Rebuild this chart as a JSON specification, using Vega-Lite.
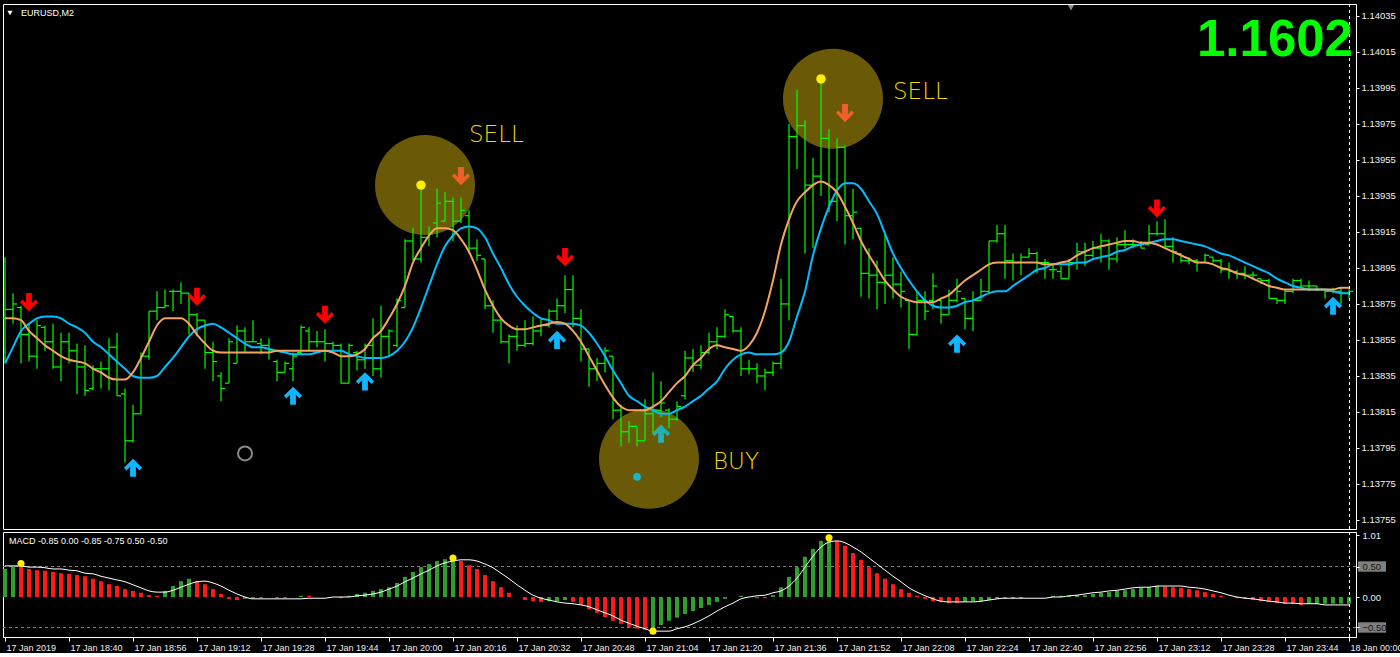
{
"$schema":"https://vega.github.io/schema/vega-lite/v6.json",
"background":"#000000",
"padding":{"left":2,"top":3,"right":0,"bottom":0},
"spacing":3,
"bounds":"flush",
"config":{"view":{"stroke":"#ffffff","strokeWidth":1},"axis":{"grid":false,"title":null,"labelFont":"Liberation Sans","labelFontSize":9,"labelColor":"#f0f0f0","domainColor":"#ffffff","tickColor":"#ffffff","labelOverlap":false},"text":{"font":"Liberation Sans"}},
"datasets":{
"bars":[
{"t":"2019-01-17 18:24","o":1.13867,"h":1.13901,"l":1.13842,"c":1.13872,"f":1.13867,"s":1.13842,"m":0.46,"g":0.51,"d":"up"},
{"t":"2019-01-17 18:26","o":1.13872,"h":1.13881,"l":1.13864,"c":1.13875,"f":1.13867,"s":1.13851,"m":0.50,"g":0.51,"d":"up"},
{"t":"2019-01-17 18:28","o":1.13873,"h":1.13874,"l":1.13842,"c":1.13858,"f":1.13866,"s":1.13860,"m":0.49,"g":0.51,"d":"dn"},
{"t":"2019-01-17 18:30","o":1.13858,"h":1.13864,"l":1.13843,"c":1.13846,"f":1.13860,"s":1.13864,"m":0.46,"g":0.49,"d":"dn"},
{"t":"2019-01-17 18:32","o":1.13846,"h":1.13866,"l":1.13839,"c":1.13863,"f":1.13856,"s":1.13867,"m":0.44,"g":0.49,"d":"dn"},
{"t":"2019-01-17 18:34","o":1.13862,"h":1.13863,"l":1.13849,"c":1.13854,"f":1.13852,"s":1.13868,"m":0.43,"g":0.48,"d":"dn"},
{"t":"2019-01-17 18:36","o":1.13854,"h":1.13864,"l":1.13839,"c":1.13840,"f":1.13849,"s":1.13868,"m":0.41,"g":0.46,"d":"dn"},
{"t":"2019-01-17 18:38","o":1.13840,"h":1.13859,"l":1.13832,"c":1.13854,"f":1.13846,"s":1.13867,"m":0.39,"g":0.46,"d":"dn"},
{"t":"2019-01-17 18:40","o":1.13854,"h":1.13859,"l":1.13842,"c":1.13849,"f":1.13844,"s":1.13864,"m":0.38,"g":0.44,"d":"dn"},
{"t":"2019-01-17 18:42","o":1.13849,"h":1.13853,"l":1.13825,"c":1.13840,"f":1.13843,"s":1.13862,"m":0.36,"g":0.43,"d":"dn"},
{"t":"2019-01-17 18:44","o":1.13840,"h":1.13852,"l":1.13824,"c":1.13827,"f":1.13842,"s":1.13859,"m":0.34,"g":0.39,"d":"dn"},
{"t":"2019-01-17 18:46","o":1.13828,"h":1.13841,"l":1.13827,"c":1.13839,"f":1.13839,"s":1.13854,"m":0.30,"g":0.38,"d":"dn"},
{"t":"2019-01-17 18:48","o":1.13839,"h":1.13843,"l":1.13828,"c":1.13839,"f":1.13837,"s":1.13851,"m":0.26,"g":0.34,"d":"dn"},
{"t":"2019-01-17 18:50","o":1.13839,"h":1.13856,"l":1.13827,"c":1.13851,"f":1.13834,"s":1.13847,"m":0.21,"g":0.31,"d":"dn"},
{"t":"2019-01-17 18:52","o":1.13851,"h":1.13859,"l":1.13824,"c":1.13824,"f":1.13833,"s":1.13843,"m":0.18,"g":0.28,"d":"dn"},
{"t":"2019-01-17 18:54","o":1.13825,"h":1.13828,"l":1.13787,"c":1.13799,"f":1.13833,"s":1.13839,"m":0.13,"g":0.25,"d":"dn"},
{"t":"2019-01-17 18:56","o":1.13799,"h":1.13819,"l":1.13798,"c":1.13814,"f":1.13837,"s":1.13835,"m":0.10,"g":0.20,"d":"dn"},
{"t":"2019-01-17 18:58","o":1.13814,"h":1.13848,"l":1.13814,"c":1.13846,"f":1.13845,"s":1.13834,"m":0.07,"g":0.15,"d":"dn"},
{"t":"2019-01-17 19:00","o":1.13846,"h":1.13871,"l":1.13844,"c":1.13871,"f":1.13854,"s":1.13834,"m":0.03,"g":0.10,"d":"dn"},
{"t":"2019-01-17 19:02","o":1.13871,"h":1.13882,"l":1.13866,"c":1.13873,"f":1.13863,"s":1.13835,"m":0.02,"g":0.08,"d":"dn"},
{"t":"2019-01-17 19:04","o":1.13873,"h":1.13883,"l":1.13873,"c":1.13874,"f":1.13867,"s":1.13840,"m":0.10,"g":0.08,"d":"up"},
{"t":"2019-01-17 19:06","o":1.13882,"h":1.13883,"l":1.13871,"c":1.13882,"f":1.13867,"s":1.13845,"m":0.18,"g":0.11,"d":"up"},
{"t":"2019-01-17 19:08","o":1.13882,"h":1.13887,"l":1.13875,"c":1.13881,"f":1.13867,"s":1.13851,"m":0.26,"g":0.16,"d":"up"},
{"t":"2019-01-17 19:10","o":1.13881,"h":1.13881,"l":1.13858,"c":1.13869,"f":1.13864,"s":1.13857,"m":0.30,"g":0.21,"d":"up"},
{"t":"2019-01-17 19:12","o":1.13869,"h":1.13870,"l":1.13857,"c":1.13866,"f":1.13858,"s":1.13861,"m":0.26,"g":0.25,"d":"dn"},
{"t":"2019-01-17 19:14","o":1.13866,"h":1.13866,"l":1.13839,"c":1.13848,"f":1.13853,"s":1.13863,"m":0.21,"g":0.26,"d":"dn"},
{"t":"2019-01-17 19:16","o":1.13848,"h":1.13854,"l":1.13832,"c":1.13843,"f":1.13849,"s":1.13864,"m":0.13,"g":0.23,"d":"dn"},
{"t":"2019-01-17 19:18","o":1.13835,"h":1.13837,"l":1.13821,"c":1.13828,"f":1.13848,"s":1.13862,"m":0.05,"g":0.18,"d":"dn"},
{"t":"2019-01-17 19:20","o":1.13831,"h":1.13856,"l":1.13831,"c":1.13854,"f":1.13848,"s":1.13859,"m":-0.03,"g":0.11,"d":"dn"},
{"t":"2019-01-17 19:22","o":1.13842,"h":1.13863,"l":1.13842,"c":1.13860,"f":1.13848,"s":1.13856,"m":-0.05,"g":0.05,"d":"dn"},
{"t":"2019-01-17 19:24","o":1.13860,"h":1.13862,"l":1.13848,"c":1.13854,"f":1.13848,"s":1.13853,"m":-0.03,"g":0.00,"d":"up"},
{"t":"2019-01-17 19:26","o":1.13854,"h":1.13866,"l":1.13854,"c":1.13854,"f":1.13848,"s":1.13851,"m":-0.02,"g":-0.03,"d":"up"},
{"t":"2019-01-17 19:28","o":1.13853,"h":1.13856,"l":1.13847,"c":1.13852,"f":1.13848,"s":1.13851,"m":-0.02,"g":-0.03,"d":"dn"},
{"t":"2019-01-17 19:30","o":1.13852,"h":1.13856,"l":1.13844,"c":1.13849,"f":1.13848,"s":1.13850,"m":0.00,"g":-0.03,"d":"up"},
{"t":"2019-01-17 19:32","o":1.13843,"h":1.13844,"l":1.13832,"c":1.13837,"f":1.13849,"s":1.13849,"m":-0.02,"g":-0.03,"d":"dn"},
{"t":"2019-01-17 19:34","o":1.13837,"h":1.13843,"l":1.13837,"c":1.13842,"f":1.13849,"s":1.13848,"m":-0.02,"g":-0.03,"d":"dn"},
{"t":"2019-01-17 19:36","o":1.13839,"h":1.13848,"l":1.13832,"c":1.13846,"f":1.13849,"s":1.13847,"m":0.00,"g":-0.03,"d":"up"},
{"t":"2019-01-17 19:38","o":1.13848,"h":1.13863,"l":1.13847,"c":1.13862,"f":1.13849,"s":1.13847,"m":0.02,"g":-0.03,"d":"up"},
{"t":"2019-01-17 19:40","o":1.13860,"h":1.13862,"l":1.13849,"c":1.13854,"f":1.13849,"s":1.13847,"m":0.02,"g":-0.02,"d":"dn"},
{"t":"2019-01-17 19:42","o":1.13854,"h":1.13860,"l":1.13851,"c":1.13854,"f":1.13849,"s":1.13848,"m":0.00,"g":-0.02,"d":"dn"},
{"t":"2019-01-17 19:44","o":1.13854,"h":1.13861,"l":1.13843,"c":1.13853,"f":1.13849,"s":1.13849,"m":0.00,"g":-0.02,"d":"dn"},
{"t":"2019-01-17 19:46","o":1.13853,"h":1.13854,"l":1.13849,"c":1.13852,"f":1.13848,"s":1.13849,"m":0.00,"g":0.00,"d":"dn"},
{"t":"2019-01-17 19:48","o":1.13852,"h":1.13853,"l":1.13831,"c":1.13831,"f":1.13846,"s":1.13849,"m":-0.02,"g":0.00,"d":"dn"},
{"t":"2019-01-17 19:50","o":1.13831,"h":1.13853,"l":1.13831,"c":1.13852,"f":1.13846,"s":1.13847,"m":0.02,"g":0.00,"d":"up"},
{"t":"2019-01-17 19:52","o":1.13848,"h":1.13849,"l":1.13838,"c":1.13844,"f":1.13847,"s":1.13846,"m":0.05,"g":0.02,"d":"up"},
{"t":"2019-01-17 19:54","o":1.13844,"h":1.13853,"l":1.13839,"c":1.13852,"f":1.13850,"s":1.13845,"m":0.07,"g":0.03,"d":"up"},
{"t":"2019-01-17 19:56","o":1.13852,"h":1.13867,"l":1.13835,"c":1.13839,"f":1.13856,"s":1.13845,"m":0.10,"g":0.05,"d":"up"},
{"t":"2019-01-17 19:58","o":1.13839,"h":1.13874,"l":1.13834,"c":1.13857,"f":1.13860,"s":1.13845,"m":0.13,"g":0.08,"d":"up"},
{"t":"2019-01-17 20:00","o":1.13857,"h":1.13861,"l":1.13846,"c":1.13860,"f":1.13867,"s":1.13846,"m":0.16,"g":0.13,"d":"up"},
{"t":"2019-01-17 20:02","o":1.13852,"h":1.13878,"l":1.13851,"c":1.13877,"f":1.13875,"s":1.13849,"m":0.23,"g":0.18,"d":"up"},
{"t":"2019-01-17 20:04","o":1.13873,"h":1.13911,"l":1.13873,"c":1.13910,"f":1.13885,"s":1.13854,"m":0.33,"g":0.25,"d":"up"},
{"t":"2019-01-17 20:06","o":1.13910,"h":1.13917,"l":1.13899,"c":1.13900,"f":1.13898,"s":1.13862,"m":0.41,"g":0.31,"d":"up"},
{"t":"2019-01-17 20:08","o":1.13900,"h":1.13941,"l":1.13898,"c":1.13912,"f":1.13906,"s":1.13873,"m":0.49,"g":0.38,"d":"up"},
{"t":"2019-01-17 20:10","o":1.13912,"h":1.13918,"l":1.13907,"c":1.13914,"f":1.13913,"s":1.13885,"m":0.54,"g":0.44,"d":"up"},
{"t":"2019-01-17 20:12","o":1.13920,"h":1.13939,"l":1.13912,"c":1.13931,"f":1.13917,"s":1.13897,"m":0.59,"g":0.51,"d":"up"},
{"t":"2019-01-17 20:14","o":1.13921,"h":1.13937,"l":1.13921,"c":1.13932,"f":1.13917,"s":1.13907,"m":0.62,"g":0.56,"d":"up"},
{"t":"2019-01-17 20:16","o":1.13932,"h":1.13934,"l":1.13910,"c":1.13921,"f":1.13916,"s":1.13913,"m":0.64,"g":0.59,"d":"up"},
{"t":"2019-01-17 20:18","o":1.13921,"h":1.13934,"l":1.13920,"c":1.13927,"f":1.13911,"s":1.13917,"m":0.59,"g":0.61,"d":"dn"},
{"t":"2019-01-17 20:20","o":1.13924,"h":1.13927,"l":1.13903,"c":1.13906,"f":1.13904,"s":1.13918,"m":0.52,"g":0.61,"d":"dn"},
{"t":"2019-01-17 20:22","o":1.13906,"h":1.13911,"l":1.13899,"c":1.13902,"f":1.13894,"s":1.13917,"m":0.46,"g":0.59,"d":"dn"},
{"t":"2019-01-17 20:24","o":1.13900,"h":1.13900,"l":1.13872,"c":1.13874,"f":1.13883,"s":1.13912,"m":0.36,"g":0.54,"d":"dn"},
{"t":"2019-01-17 20:26","o":1.13874,"h":1.13877,"l":1.13859,"c":1.13866,"f":1.13874,"s":1.13903,"m":0.26,"g":0.48,"d":"dn"},
{"t":"2019-01-17 20:28","o":1.13866,"h":1.13867,"l":1.13853,"c":1.13854,"f":1.13867,"s":1.13895,"m":0.16,"g":0.39,"d":"dn"},
{"t":"2019-01-17 20:30","o":1.13854,"h":1.13858,"l":1.13842,"c":1.13857,"f":1.13863,"s":1.13886,"m":0.07,"g":0.30,"d":"dn"},
{"t":"2019-01-17 20:32","o":1.13857,"h":1.13863,"l":1.13849,"c":1.13852,"f":1.13861,"s":1.13879,"m":0.00,"g":0.20,"d":"dn"},
{"t":"2019-01-17 20:34","o":1.13852,"h":1.13866,"l":1.13851,"c":1.13853,"f":1.13861,"s":1.13874,"m":-0.05,"g":0.11,"d":"dn"},
{"t":"2019-01-17 20:36","o":1.13853,"h":1.13868,"l":1.13852,"c":1.13860,"f":1.13862,"s":1.13870,"m":-0.07,"g":0.03,"d":"dn"},
{"t":"2019-01-17 20:38","o":1.13860,"h":1.13867,"l":1.13857,"c":1.13863,"f":1.13863,"s":1.13867,"m":-0.08,"g":-0.02,"d":"dn"},
{"t":"2019-01-17 20:40","o":1.13863,"h":1.13872,"l":1.13862,"c":1.13871,"f":1.13864,"s":1.13866,"m":-0.07,"g":-0.05,"d":"up"},
{"t":"2019-01-17 20:42","o":1.13871,"h":1.13878,"l":1.13866,"c":1.13874,"f":1.13865,"s":1.13864,"m":-0.07,"g":-0.08,"d":"up"},
{"t":"2019-01-17 20:44","o":1.13874,"h":1.13891,"l":1.13870,"c":1.13883,"f":1.13864,"s":1.13864,"m":-0.05,"g":-0.10,"d":"up"},
{"t":"2019-01-17 20:46","o":1.13883,"h":1.13891,"l":1.13862,"c":1.13867,"f":1.13860,"s":1.13864,"m":-0.08,"g":-0.11,"d":"dn"},
{"t":"2019-01-17 20:48","o":1.13867,"h":1.13872,"l":1.13843,"c":1.13850,"f":1.13854,"s":1.13863,"m":-0.13,"g":-0.13,"d":"dn"},
{"t":"2019-01-17 20:50","o":1.13850,"h":1.13850,"l":1.13829,"c":1.13839,"f":1.13846,"s":1.13859,"m":-0.20,"g":-0.16,"d":"dn"},
{"t":"2019-01-17 20:52","o":1.13839,"h":1.13845,"l":1.13832,"c":1.13842,"f":1.13838,"s":1.13853,"m":-0.26,"g":-0.21,"d":"dn"},
{"t":"2019-01-17 20:54","o":1.13842,"h":1.13851,"l":1.13837,"c":1.13849,"f":1.13830,"s":1.13846,"m":-0.33,"g":-0.26,"d":"dn"},
{"t":"2019-01-17 20:56","o":1.13846,"h":1.13846,"l":1.13811,"c":1.13816,"f":1.13823,"s":1.13838,"m":-0.39,"g":-0.31,"d":"dn"},
{"t":"2019-01-17 20:58","o":1.13816,"h":1.13819,"l":1.13796,"c":1.13804,"f":1.13818,"s":1.13831,"m":-0.44,"g":-0.38,"d":"dn"},
{"t":"2019-01-17 21:00","o":1.13804,"h":1.13810,"l":1.13798,"c":1.13807,"f":1.13816,"s":1.13824,"m":-0.49,"g":-0.43,"d":"dn"},
{"t":"2019-01-17 21:02","o":1.13807,"h":1.13807,"l":1.13796,"c":1.13799,"f":1.13816,"s":1.13821,"m":-0.52,"g":-0.48,"d":"dn"},
{"t":"2019-01-17 21:04","o":1.13799,"h":1.13822,"l":1.13799,"c":1.13814,"f":1.13816,"s":1.13818,"m":-0.54,"g":-0.52,"d":"dn"},
{"t":"2019-01-17 21:06","o":1.13814,"h":1.13837,"l":1.13803,"c":1.13816,"f":1.13818,"s":1.13816,"m":-0.51,"g":-0.56,"d":"up"},
{"t":"2019-01-17 21:08","o":1.13816,"h":1.13832,"l":1.13812,"c":1.13820,"f":1.13821,"s":1.13814,"m":-0.46,"g":-0.56,"d":"up"},
{"t":"2019-01-17 21:10","o":1.13816,"h":1.13817,"l":1.13806,"c":1.13811,"f":1.13826,"s":1.13814,"m":-0.39,"g":-0.56,"d":"up"},
{"t":"2019-01-17 21:12","o":1.13811,"h":1.13821,"l":1.13810,"c":1.13818,"f":1.13831,"s":1.13816,"m":-0.34,"g":-0.52,"d":"up"},
{"t":"2019-01-17 21:14","o":1.13824,"h":1.13849,"l":1.13822,"c":1.13845,"f":1.13835,"s":1.13818,"m":-0.28,"g":-0.49,"d":"up"},
{"t":"2019-01-17 21:16","o":1.13845,"h":1.13850,"l":1.13837,"c":1.13841,"f":1.13841,"s":1.13821,"m":-0.23,"g":-0.44,"d":"up"},
{"t":"2019-01-17 21:18","o":1.13841,"h":1.13852,"l":1.13839,"c":1.13848,"f":1.13845,"s":1.13824,"m":-0.18,"g":-0.38,"d":"up"},
{"t":"2019-01-17 21:20","o":1.13848,"h":1.13859,"l":1.13847,"c":1.13854,"f":1.13850,"s":1.13828,"m":-0.13,"g":-0.31,"d":"up"},
{"t":"2019-01-17 21:22","o":1.13854,"h":1.13862,"l":1.13850,"c":1.13857,"f":1.13852,"s":1.13832,"m":-0.08,"g":-0.23,"d":"up"},
{"t":"2019-01-17 21:24","o":1.13857,"h":1.13872,"l":1.13856,"c":1.13869,"f":1.13851,"s":1.13839,"m":-0.03,"g":-0.16,"d":"up"},
{"t":"2019-01-17 21:26","o":1.13868,"h":1.13868,"l":1.13859,"c":1.13860,"f":1.13850,"s":1.13844,"m":0.00,"g":-0.10,"d":"up"},
{"t":"2019-01-17 21:28","o":1.13860,"h":1.13862,"l":1.13835,"c":1.13839,"f":1.13849,"s":1.13847,"m":0.02,"g":-0.03,"d":"up"},
{"t":"2019-01-17 21:30","o":1.13839,"h":1.13844,"l":1.13836,"c":1.13839,"f":1.13852,"s":1.13848,"m":0.00,"g":0.00,"d":"dn"},
{"t":"2019-01-17 21:32","o":1.13839,"h":1.13842,"l":1.13831,"c":1.13835,"f":1.13859,"s":1.13847,"m":-0.02,"g":0.02,"d":"dn"},
{"t":"2019-01-17 21:34","o":1.13835,"h":1.13839,"l":1.13827,"c":1.13837,"f":1.13871,"s":1.13847,"m":-0.02,"g":0.03,"d":"dn"},
{"t":"2019-01-17 21:36","o":1.13837,"h":1.13843,"l":1.13835,"c":1.13842,"f":1.13888,"s":1.13847,"m":0.03,"g":0.07,"d":"up"},
{"t":"2019-01-17 21:38","o":1.13842,"h":1.13889,"l":1.13839,"c":1.13875,"f":1.13908,"s":1.13848,"m":0.16,"g":0.10,"d":"up"},
{"t":"2019-01-17 21:40","o":1.13875,"h":1.13975,"l":1.13866,"c":1.13968,"f":1.13922,"s":1.13854,"m":0.33,"g":0.18,"d":"up"},
{"t":"2019-01-17 21:42","o":1.13968,"h":1.13994,"l":1.13950,"c":1.13974,"f":1.13932,"s":1.13868,"m":0.49,"g":0.31,"d":"up"},
{"t":"2019-01-17 21:44","o":1.13974,"h":1.13977,"l":1.13903,"c":1.13941,"f":1.13937,"s":1.13882,"m":0.66,"g":0.49,"d":"up"},
{"t":"2019-01-17 21:46","o":1.13941,"h":1.13956,"l":1.13906,"c":1.13946,"f":1.13941,"s":1.13902,"m":0.79,"g":0.67,"d":"up"},
{"t":"2019-01-17 21:48","o":1.13946,"h":1.14000,"l":1.13935,"c":1.13967,"f":1.13943,"s":1.13917,"m":0.92,"g":0.82,"d":"up"},
{"t":"2019-01-17 21:50","o":1.13967,"h":1.13972,"l":1.13926,"c":1.13932,"f":1.13941,"s":1.13929,"m":0.97,"g":0.90,"d":"up"},
{"t":"2019-01-17 21:52","o":1.13932,"h":1.13967,"l":1.13921,"c":1.13962,"f":1.13937,"s":1.13938,"m":0.92,"g":0.92,"d":"dn"},
{"t":"2019-01-17 21:54","o":1.13962,"h":1.13963,"l":1.13908,"c":1.13924,"f":1.13929,"s":1.13942,"m":0.84,"g":0.89,"d":"dn"},
{"t":"2019-01-17 21:56","o":1.13924,"h":1.13939,"l":1.13911,"c":1.13926,"f":1.13920,"s":1.13942,"m":0.72,"g":0.82,"d":"dn"},
{"t":"2019-01-17 21:58","o":1.13917,"h":1.13917,"l":1.13879,"c":1.13892,"f":1.13910,"s":1.13939,"m":0.61,"g":0.74,"d":"dn"},
{"t":"2019-01-17 22:00","o":1.13892,"h":1.13906,"l":1.13878,"c":1.13891,"f":1.13902,"s":1.13932,"m":0.49,"g":0.64,"d":"dn"},
{"t":"2019-01-17 22:02","o":1.13891,"h":1.13899,"l":1.13872,"c":1.13887,"f":1.13895,"s":1.13925,"m":0.39,"g":0.54,"d":"dn"},
{"t":"2019-01-17 22:04","o":1.13887,"h":1.13914,"l":1.13875,"c":1.13891,"f":1.13888,"s":1.13914,"m":0.30,"g":0.44,"d":"dn"},
{"t":"2019-01-17 22:06","o":1.13891,"h":1.13901,"l":1.13878,"c":1.13886,"f":1.13883,"s":1.13903,"m":0.21,"g":0.34,"d":"dn"},
{"t":"2019-01-17 22:08","o":1.13886,"h":1.13893,"l":1.13873,"c":1.13882,"f":1.13879,"s":1.13895,"m":0.13,"g":0.25,"d":"dn"},
{"t":"2019-01-17 22:10","o":1.13877,"h":1.13877,"l":1.13850,"c":1.13858,"f":1.13877,"s":1.13888,"m":0.07,"g":0.15,"d":"dn"},
{"t":"2019-01-17 22:12","o":1.13858,"h":1.13882,"l":1.13858,"c":1.13877,"f":1.13876,"s":1.13882,"m":0.02,"g":0.08,"d":"dn"},
{"t":"2019-01-17 22:14","o":1.13877,"h":1.13882,"l":1.13866,"c":1.13871,"f":1.13876,"s":1.13877,"m":-0.03,"g":0.02,"d":"dn"},
{"t":"2019-01-17 22:16","o":1.13877,"h":1.13892,"l":1.13872,"c":1.13885,"f":1.13876,"s":1.13874,"m":-0.07,"g":-0.03,"d":"dn"},
{"t":"2019-01-17 22:18","o":1.13877,"h":1.13877,"l":1.13864,"c":1.13869,"f":1.13878,"s":1.13873,"m":-0.08,"g":-0.07,"d":"dn"},
{"t":"2019-01-17 22:20","o":1.13869,"h":1.13883,"l":1.13869,"c":1.13877,"f":1.13880,"s":1.13873,"m":-0.10,"g":-0.08,"d":"dn"},
{"t":"2019-01-17 22:22","o":1.13877,"h":1.13889,"l":1.13876,"c":1.13882,"f":1.13884,"s":1.13874,"m":-0.10,"g":-0.08,"d":"dn"},
{"t":"2019-01-17 22:24","o":1.13878,"h":1.13878,"l":1.13861,"c":1.13867,"f":1.13888,"s":1.13876,"m":-0.08,"g":-0.08,"d":"up"},
{"t":"2019-01-17 22:26","o":1.13867,"h":1.13882,"l":1.13860,"c":1.13877,"f":1.13891,"s":1.13877,"m":-0.07,"g":-0.08,"d":"up"},
{"t":"2019-01-17 22:28","o":1.13877,"h":1.13889,"l":1.13877,"c":1.13882,"f":1.13894,"s":1.13879,"m":-0.07,"g":-0.07,"d":"up"},
{"t":"2019-01-17 22:30","o":1.13882,"h":1.13910,"l":1.13881,"c":1.13910,"f":1.13897,"s":1.13881,"m":-0.05,"g":-0.05,"d":"up"},
{"t":"2019-01-17 22:32","o":1.13910,"h":1.13919,"l":1.13909,"c":1.13914,"f":1.13898,"s":1.13882,"m":-0.03,"g":-0.03,"d":"up"},
{"t":"2019-01-17 22:34","o":1.13914,"h":1.13919,"l":1.13889,"c":1.13899,"f":1.13898,"s":1.13882,"m":-0.02,"g":-0.02,"d":"up"},
{"t":"2019-01-17 22:36","o":1.13899,"h":1.13903,"l":1.13888,"c":1.13898,"f":1.13898,"s":1.13885,"m":-0.02,"g":-0.02,"d":"up"},
{"t":"2019-01-17 22:38","o":1.13898,"h":1.13903,"l":1.13891,"c":1.13901,"f":1.13898,"s":1.13888,"m":-0.02,"g":-0.02,"d":"up"},
{"t":"2019-01-17 22:40","o":1.13901,"h":1.13906,"l":1.13901,"c":1.13903,"f":1.13898,"s":1.13891,"m":0.00,"g":-0.02,"d":"up"},
{"t":"2019-01-17 22:42","o":1.13903,"h":1.13904,"l":1.13892,"c":1.13898,"f":1.13898,"s":1.13894,"m":0.00,"g":-0.02,"d":"up"},
{"t":"2019-01-17 22:44","o":1.13898,"h":1.13900,"l":1.13889,"c":1.13898,"f":1.13897,"s":1.13895,"m":0.00,"g":-0.02,"d":"up"},
{"t":"2019-01-17 22:46","o":1.13894,"h":1.13897,"l":1.13889,"c":1.13894,"f":1.13897,"s":1.13897,"m":0.02,"g":0.00,"d":"up"},
{"t":"2019-01-17 22:48","o":1.13893,"h":1.13896,"l":1.13889,"c":1.13889,"f":1.13898,"s":1.13897,"m":0.02,"g":0.00,"d":"up"},
{"t":"2019-01-17 22:50","o":1.13889,"h":1.13900,"l":1.13889,"c":1.13898,"f":1.13899,"s":1.13897,"m":0.02,"g":0.02,"d":"up"},
{"t":"2019-01-17 22:52","o":1.13898,"h":1.13909,"l":1.13894,"c":1.13904,"f":1.13902,"s":1.13898,"m":0.03,"g":0.03,"d":"up"},
{"t":"2019-01-17 22:54","o":1.13904,"h":1.13909,"l":1.13896,"c":1.13902,"f":1.13904,"s":1.13898,"m":0.03,"g":0.05,"d":"up"},
{"t":"2019-01-17 22:56","o":1.13902,"h":1.13910,"l":1.13901,"c":1.13906,"f":1.13906,"s":1.13900,"m":0.05,"g":0.07,"d":"up"},
{"t":"2019-01-17 22:58","o":1.13906,"h":1.13914,"l":1.13898,"c":1.13910,"f":1.13907,"s":1.13901,"m":0.07,"g":0.08,"d":"up"},
{"t":"2019-01-17 23:00","o":1.13910,"h":1.13911,"l":1.13894,"c":1.13900,"f":1.13908,"s":1.13902,"m":0.08,"g":0.10,"d":"up"},
{"t":"2019-01-17 23:02","o":1.13900,"h":1.13912,"l":1.13898,"c":1.13908,"f":1.13909,"s":1.13904,"m":0.10,"g":0.11,"d":"up"},
{"t":"2019-01-17 23:04","o":1.13908,"h":1.13916,"l":1.13906,"c":1.13908,"f":1.13910,"s":1.13905,"m":0.11,"g":0.13,"d":"up"},
{"t":"2019-01-17 23:06","o":1.13908,"h":1.13911,"l":1.13906,"c":1.13908,"f":1.13910,"s":1.13907,"m":0.13,"g":0.15,"d":"up"},
{"t":"2019-01-17 23:08","o":1.13908,"h":1.13910,"l":1.13906,"c":1.13906,"f":1.13909,"s":1.13908,"m":0.15,"g":0.16,"d":"up"},
{"t":"2019-01-17 23:10","o":1.13908,"h":1.13919,"l":1.13908,"c":1.13914,"f":1.13909,"s":1.13909,"m":0.16,"g":0.16,"d":"up"},
{"t":"2019-01-17 23:12","o":1.13914,"h":1.13921,"l":1.13913,"c":1.13914,"f":1.13908,"s":1.13910,"m":0.18,"g":0.18,"d":"up"},
{"t":"2019-01-17 23:14","o":1.13914,"h":1.13922,"l":1.13906,"c":1.13907,"f":1.13906,"s":1.13911,"m":0.17,"g":0.18,"d":"dn"},
{"t":"2019-01-17 23:16","o":1.13907,"h":1.13912,"l":1.13898,"c":1.13904,"f":1.13904,"s":1.13911,"m":0.16,"g":0.18,"d":"dn"},
{"t":"2019-01-17 23:18","o":1.13903,"h":1.13903,"l":1.13898,"c":1.13899,"f":1.13902,"s":1.13910,"m":0.15,"g":0.18,"d":"dn"},
{"t":"2019-01-17 23:20","o":1.13899,"h":1.13901,"l":1.13897,"c":1.13899,"f":1.13900,"s":1.13909,"m":0.13,"g":0.16,"d":"dn"},
{"t":"2019-01-17 23:22","o":1.13899,"h":1.13900,"l":1.13893,"c":1.13898,"f":1.13898,"s":1.13908,"m":0.11,"g":0.15,"d":"dn"},
{"t":"2019-01-17 23:24","o":1.13898,"h":1.13903,"l":1.13898,"c":1.13902,"f":1.13898,"s":1.13907,"m":0.08,"g":0.13,"d":"dn"},
{"t":"2019-01-17 23:26","o":1.13901,"h":1.13901,"l":1.13898,"c":1.13899,"f":1.13897,"s":1.13905,"m":0.05,"g":0.10,"d":"dn"},
{"t":"2019-01-17 23:28","o":1.13899,"h":1.13900,"l":1.13892,"c":1.13894,"f":1.13895,"s":1.13903,"m":0.02,"g":0.07,"d":"dn"},
{"t":"2019-01-17 23:30","o":1.13894,"h":1.13898,"l":1.13889,"c":1.13893,"f":1.13894,"s":1.13902,"m":0.00,"g":0.03,"d":"dn"},
{"t":"2019-01-17 23:32","o":1.13893,"h":1.13894,"l":1.13889,"c":1.13892,"f":1.13892,"s":1.13900,"m":-0.02,"g":0.00,"d":"dn"},
{"t":"2019-01-17 23:34","o":1.13892,"h":1.13896,"l":1.13889,"c":1.13891,"f":1.13891,"s":1.13898,"m":-0.03,"g":-0.02,"d":"dn"},
{"t":"2019-01-17 23:36","o":1.13891,"h":1.13893,"l":1.13889,"c":1.13891,"f":1.13889,"s":1.13896,"m":-0.05,"g":-0.03,"d":"dn"},
{"t":"2019-01-17 23:38","o":1.13889,"h":1.13889,"l":1.13886,"c":1.13888,"f":1.13887,"s":1.13894,"m":-0.07,"g":-0.05,"d":"dn"},
{"t":"2019-01-17 23:40","o":1.13888,"h":1.13889,"l":1.13878,"c":1.13878,"f":1.13885,"s":1.13892,"m":-0.08,"g":-0.07,"d":"dn"},
{"t":"2019-01-17 23:42","o":1.13878,"h":1.13878,"l":1.13875,"c":1.13877,"f":1.13884,"s":1.13889,"m":-0.10,"g":-0.08,"d":"dn"},
{"t":"2019-01-17 23:44","o":1.13877,"h":1.13883,"l":1.13875,"c":1.13882,"f":1.13883,"s":1.13887,"m":-0.11,"g":-0.10,"d":"dn"},
{"t":"2019-01-17 23:46","o":1.13882,"h":1.13889,"l":1.13881,"c":1.13888,"f":1.13883,"s":1.13885,"m":-0.11,"g":-0.10,"d":"dn"},
{"t":"2019-01-17 23:48","o":1.13888,"h":1.13889,"l":1.13884,"c":1.13885,"f":1.13883,"s":1.13884,"m":-0.13,"g":-0.11,"d":"dn"},
{"t":"2019-01-17 23:50","o":1.13885,"h":1.13888,"l":1.13882,"c":1.13885,"f":1.13883,"s":1.13883,"m":-0.11,"g":-0.11,"d":"up"},
{"t":"2019-01-17 23:52","o":1.13885,"h":1.13885,"l":1.13882,"c":1.13883,"f":1.13883,"s":1.13883,"m":-0.11,"g":-0.11,"d":"up"},
{"t":"2019-01-17 23:54","o":1.13883,"h":1.13883,"l":1.13878,"c":1.13882,"f":1.13883,"s":1.13883,"m":-0.11,"g":-0.13,"d":"up"},
{"t":"2019-01-17 23:56","o":1.13882,"h":1.13884,"l":1.13881,"c":1.13882,"f":1.13883,"s":1.13882,"m":-0.11,"g":-0.13,"d":"up"},
{"t":"2019-01-17 23:58","o":1.13882,"h":1.13884,"l":1.13875,"c":1.13881,"f":1.13884,"s":1.13881,"m":-0.11,"g":-0.13,"d":"up"},
{"t":"2019-01-18 00:00","o":1.13881,"h":1.13884,"l":1.13878,"c":1.13882,"f":1.13884,"s":1.13881,"m":-0.11,"g":-0.13,"d":"up"}
],
"ann":[
{"k":"ring","t":"2019-01-17 20:09","p":1.13941},
{"k":"ring","t":"2019-01-17 21:51","p":1.13989},
{"k":"ring","t":"2019-01-17 21:05","p":1.13789},
{"k":"dn","t":"2019-01-17 18:30","p":1.13876},
{"k":"dn","t":"2019-01-17 19:12","p":1.13879},
{"k":"dn","t":"2019-01-17 19:44","p":1.13869},
{"k":"dn","t":"2019-01-17 20:44","p":1.13901},
{"k":"dn","t":"2019-01-17 23:12","p":1.13928},
{"k":"up","t":"2019-01-17 18:56","p":1.13784},
{"k":"up","t":"2019-01-17 19:36","p":1.13824},
{"k":"up","t":"2019-01-17 19:54","p":1.13832},
{"k":"up","t":"2019-01-17 20:42","p":1.13855},
{"k":"up2","t":"2019-01-17 21:08","p":1.13803},
{"k":"up","t":"2019-01-17 22:22","p":1.13853},
{"k":"up","t":"2019-01-17 23:56","p":1.13874},
{"k":"odn","t":"2019-01-17 20:18","p":1.13946},
{"k":"odn","t":"2019-01-17 21:54","p":1.13981},
{"k":"ydot","t":"2019-01-17 20:08","p":1.13941},
{"k":"ydot","t":"2019-01-17 21:48","p":1.14000},
{"k":"cdot","t":"2019-01-17 21:02","p":1.13779},
{"k":"hollow","t":"2019-01-17 19:24","p":1.13792},
{"k":"sig","t":"2019-01-17 20:20","p":1.13969,"text":"SELL"},
{"k":"sig","t":"2019-01-17 22:06","p":1.13993,"text":"SELL"},
{"k":"sig","t":"2019-01-17 21:21","p":1.13787,"text":"BUY"},
{"k":"mdot","t":"2019-01-17 18:28","p":0.55},
{"k":"mdot","t":"2019-01-17 20:16","p":0.64},
{"k":"mdot","t":"2019-01-17 21:50","p":0.97},
{"k":"mdot","t":"2019-01-17 21:06","p":-0.56}
]
},
"vconcat":[
{"width":1353,"height":525,
"layer":[
{"data":{"name":"ann"},"transform":[{"filter":"datum.k=='ring'"}],"mark":{"type":"point","shape":"circle","filled":true,"size":10000,"color":"#6a5a08","opacity":1,"strokeWidth":0},
"encoding":{"x":{"field":"t","type":"temporal","scale":{"domain":[{"year":2019,"month":1,"date":17,"hours":18,"minutes":23,"seconds":30},{"year":2019,"month":1,"date":18,"hours":0,"minutes":1,"seconds":45}],"nice":false},"axis":null},
"y":{"field":"p","type":"quantitative","scale":{"domain":[1.1375,1.140416],"zero":false,"nice":false},"axis":{"orient":"right","values":[1.13755,1.13775,1.13795,1.13815,1.13835,1.13855,1.13875,1.13895,1.13915,1.13935,1.13955,1.13975,1.13995,1.14015,1.14035],"tickCount":100,"format":".5f","tickSize":3,"labelPadding":2,"labelFontSize":9.5,"labelOverlap":false}}}},
{"data":{"name":"ann"},"transform":[{"filter":"datum.k=='hollow'"}],"mark":{"type":"point","shape":"circle","filled":false,"size":196,"color":"#8a8a8a","strokeWidth":2,"opacity":1},
"encoding":{"x":{"field":"t","type":"temporal","scale":{"domain":[{"year":2019,"month":1,"date":17,"hours":18,"minutes":23,"seconds":30},{"year":2019,"month":1,"date":18,"hours":0,"minutes":1,"seconds":45}],"nice":false}},
"y":{"field":"p","type":"quantitative","scale":{"domain":[1.1375,1.140416],"zero":false,"nice":false}}}},
{"data":{"name":"bars"},"mark":{"type":"rule","color":"#00ff00","strokeWidth":1.2,"clip":true},
"encoding":{"x":{"field":"t","type":"temporal","scale":{"domain":[{"year":2019,"month":1,"date":17,"hours":18,"minutes":23,"seconds":30},{"year":2019,"month":1,"date":18,"hours":0,"minutes":1,"seconds":45}],"nice":false}},
"y":{"field":"h","type":"quantitative","scale":{"domain":[1.1375,1.140416],"zero":false,"nice":false}},"y2":{"field":"l"}}},
{"data":{"name":"bars"},"mark":{"type":"tick","orient":"horizontal","color":"#00ff00","size":4,"thickness":1.2,"xOffset":-2,"opacity":1,"clip":true},
"encoding":{"x":{"field":"t","type":"temporal","scale":{"domain":[{"year":2019,"month":1,"date":17,"hours":18,"minutes":23,"seconds":30},{"year":2019,"month":1,"date":18,"hours":0,"minutes":1,"seconds":45}],"nice":false}},
"y":{"field":"o","type":"quantitative","scale":{"domain":[1.1375,1.140416],"zero":false,"nice":false}}}},
{"data":{"name":"bars"},"mark":{"type":"tick","orient":"horizontal","color":"#00ff00","size":4,"thickness":1.2,"xOffset":2,"opacity":1,"clip":true},
"encoding":{"x":{"field":"t","type":"temporal","scale":{"domain":[{"year":2019,"month":1,"date":17,"hours":18,"minutes":23,"seconds":30},{"year":2019,"month":1,"date":18,"hours":0,"minutes":1,"seconds":45}],"nice":false}},
"y":{"field":"c","type":"quantitative","scale":{"domain":[1.1375,1.140416],"zero":false,"nice":false}}}},
{"data":{"name":"bars"},"mark":{"type":"line","color":"#00bfff","strokeWidth":2,"interpolate":"monotone","clip":true},
"encoding":{"x":{"field":"t","type":"temporal","scale":{"domain":[{"year":2019,"month":1,"date":17,"hours":18,"minutes":23,"seconds":30},{"year":2019,"month":1,"date":18,"hours":0,"minutes":1,"seconds":45}],"nice":false}},
"y":{"field":"s","type":"quantitative","scale":{"domain":[1.1375,1.140416],"zero":false,"nice":false}}}},
{"data":{"name":"bars"},"mark":{"type":"line","color":"#f4a460","strokeWidth":2,"interpolate":"monotone","clip":true},
"encoding":{"x":{"field":"t","type":"temporal","scale":{"domain":[{"year":2019,"month":1,"date":17,"hours":18,"minutes":23,"seconds":30},{"year":2019,"month":1,"date":18,"hours":0,"minutes":1,"seconds":45}],"nice":false}},
"y":{"field":"f","type":"quantitative","scale":{"domain":[1.1375,1.140416],"zero":false,"nice":false}}}},
{"data":{"name":"ann"},"transform":[{"filter":"datum.k=='dn'"}],"mark":{"type":"point","shape":"M-0.32,-1L0.32,-1L0.32,0.12L0.72,-0.3L1,0L0,1L-1,0L-0.72,-0.3L-0.32,0.12Z","filled":true,"size":330,"color":"#ff0000","opacity":1,"strokeWidth":0},
"encoding":{"x":{"field":"t","type":"temporal","scale":{"domain":[{"year":2019,"month":1,"date":17,"hours":18,"minutes":23,"seconds":30},{"year":2019,"month":1,"date":18,"hours":0,"minutes":1,"seconds":45}],"nice":false}},
"y":{"field":"p","type":"quantitative","scale":{"domain":[1.1375,1.140416],"zero":false,"nice":false}}}},
{"data":{"name":"ann"},"transform":[{"filter":"datum.k=='up'"}],"mark":{"type":"point","shape":"M-0.32,1L0.32,1L0.32,-0.12L0.72,0.3L1,0L0,-1L-1,0L-0.72,0.3L-0.32,-0.12Z","filled":true,"size":330,"color":"#10b4ff","opacity":1,"strokeWidth":0},
"encoding":{"x":{"field":"t","type":"temporal","scale":{"domain":[{"year":2019,"month":1,"date":17,"hours":18,"minutes":23,"seconds":30},{"year":2019,"month":1,"date":18,"hours":0,"minutes":1,"seconds":45}],"nice":false}},
"y":{"field":"p","type":"quantitative","scale":{"domain":[1.1375,1.140416],"zero":false,"nice":false}}}},
{"data":{"name":"ann"},"transform":[{"filter":"datum.k=='up2'"}],"mark":{"type":"point","shape":"M-0.32,1L0.32,1L0.32,-0.12L0.72,0.3L1,0L0,-1L-1,0L-0.72,0.3L-0.32,-0.12Z","filled":true,"size":330,"color":"#22b2b4","opacity":1,"strokeWidth":0},
"encoding":{"x":{"field":"t","type":"temporal","scale":{"domain":[{"year":2019,"month":1,"date":17,"hours":18,"minutes":23,"seconds":30},{"year":2019,"month":1,"date":18,"hours":0,"minutes":1,"seconds":45}],"nice":false}},
"y":{"field":"p","type":"quantitative","scale":{"domain":[1.1375,1.140416],"zero":false,"nice":false}}}},
{"data":{"name":"ann"},"transform":[{"filter":"datum.k=='odn'"}],"mark":{"type":"point","shape":"M-0.32,-1L0.32,-1L0.32,0.12L0.72,-0.3L1,0L0,1L-1,0L-0.72,-0.3L-0.32,0.12Z","filled":true,"size":330,"color":"#ff5f2e","opacity":0.9,"strokeWidth":0},
"encoding":{"x":{"field":"t","type":"temporal","scale":{"domain":[{"year":2019,"month":1,"date":17,"hours":18,"minutes":23,"seconds":30},{"year":2019,"month":1,"date":18,"hours":0,"minutes":1,"seconds":45}],"nice":false}},
"y":{"field":"p","type":"quantitative","scale":{"domain":[1.1375,1.140416],"zero":false,"nice":false}}}},
{"data":{"name":"ann"},"transform":[{"filter":"datum.k=='ydot'"}],"mark":{"type":"point","shape":"circle","filled":true,"size":90,"color":"#ffee00","opacity":1,"strokeWidth":0},
"encoding":{"x":{"field":"t","type":"temporal","scale":{"domain":[{"year":2019,"month":1,"date":17,"hours":18,"minutes":23,"seconds":30},{"year":2019,"month":1,"date":18,"hours":0,"minutes":1,"seconds":45}],"nice":false}},
"y":{"field":"p","type":"quantitative","scale":{"domain":[1.1375,1.140416],"zero":false,"nice":false}}}},
{"data":{"name":"ann"},"transform":[{"filter":"datum.k=='cdot'"}],"mark":{"type":"point","shape":"circle","filled":true,"size":60,"color":"#1ab8c4","opacity":1,"strokeWidth":0},
"encoding":{"x":{"field":"t","type":"temporal","scale":{"domain":[{"year":2019,"month":1,"date":17,"hours":18,"minutes":23,"seconds":30},{"year":2019,"month":1,"date":18,"hours":0,"minutes":1,"seconds":45}],"nice":false}},
"y":{"field":"p","type":"quantitative","scale":{"domain":[1.1375,1.140416],"zero":false,"nice":false}}}},
{"data":{"name":"ann"},"transform":[{"filter":"datum.k=='sig'"}],"mark":{"type":"text","align":"left","baseline":"middle","font":"DejaVu Sans","fontSize":23,"fontWeight":300,"color":"#f5d800"},
"encoding":{"x":{"field":"t","type":"temporal","scale":{"domain":[{"year":2019,"month":1,"date":17,"hours":18,"minutes":23,"seconds":30},{"year":2019,"month":1,"date":18,"hours":0,"minutes":1,"seconds":45}],"nice":false}},
"y":{"field":"p","type":"quantitative","scale":{"domain":[1.1375,1.140416],"zero":false,"nice":false}},"text":{"field":"text"}}},
{"data":{"values":[{}]},"mark":{"type":"rule","color":"#ffffff","strokeDash":[3,3],"strokeWidth":1,"xOffset":0.5},
"encoding":{"x":{"datum":{"year":2019,"month":1,"date":18,"hours":0,"minutes":0},"type":"temporal","scale":{"domain":[{"year":2019,"month":1,"date":17,"hours":18,"minutes":23,"seconds":30},{"year":2019,"month":1,"date":18,"hours":0,"minutes":1,"seconds":45}],"nice":false}}}},
{"data":{"values":[{}]},"mark":{"type":"text","text":"EURUSD,M2","align":"left","baseline":"middle","fontSize":9,"color":"#ffffff"},
"encoding":{"x":{"datum":{"year":2019,"month":1,"date":17,"hours":18,"minutes":28},"type":"temporal","scale":{"domain":[{"year":2019,"month":1,"date":17,"hours":18,"minutes":23,"seconds":30},{"year":2019,"month":1,"date":18,"hours":0,"minutes":1,"seconds":45}],"nice":false}},
"y":{"datum":1.140366,"type":"quantitative","scale":{"domain":[1.1375,1.140416],"zero":false,"nice":false}}}},
{"data":{"values":[{}]},"mark":{"type":"point","shape":"triangle-down","filled":true,"size":28,"color":"#ffffff","opacity":1,"strokeWidth":0,"clip":true},
"encoding":{"x":{"datum":{"year":2019,"month":1,"date":17,"hours":18,"minutes":25,"seconds":15},"type":"temporal","scale":{"domain":[{"year":2019,"month":1,"date":17,"hours":18,"minutes":23,"seconds":30},{"year":2019,"month":1,"date":18,"hours":0,"minutes":1,"seconds":45}],"nice":false}},
"y":{"datum":1.140366,"type":"quantitative","scale":{"domain":[1.1375,1.140416],"zero":false,"nice":false}}}},
{"data":{"values":[{}]},"mark":{"type":"point","shape":"triangle-down","filled":true,"size":40,"color":"#8c8c8c","opacity":1,"strokeWidth":0,"clip":true},
"encoding":{"x":{"datum":{"year":2019,"month":1,"date":17,"hours":22,"minutes":50,"seconds":30},"type":"temporal","scale":{"domain":[{"year":2019,"month":1,"date":17,"hours":18,"minutes":23,"seconds":30},{"year":2019,"month":1,"date":18,"hours":0,"minutes":1,"seconds":45}],"nice":false}},
"y":{"datum":1.140395,"type":"quantitative","scale":{"domain":[1.1375,1.140416],"zero":false,"nice":false}}}},
{"data":{"values":[{}]},"mark":{"type":"text","text":"1.1602","align":"right","baseline":"alphabetic","font":"Liberation Sans","fontWeight":"bold","fontSize":51,"color":"#00ff00"},
"encoding":{"x":{"datum":{"year":2019,"month":1,"date":18,"hours":0,"minutes":1},"type":"temporal","scale":{"domain":[{"year":2019,"month":1,"date":17,"hours":18,"minutes":23,"seconds":30},{"year":2019,"month":1,"date":18,"hours":0,"minutes":1,"seconds":45}],"nice":false}},
"y":{"datum":1.140127,"type":"quantitative","scale":{"domain":[1.1375,1.140416],"zero":false,"nice":false}}}}
]},
{"width":1353,"height":105,
"layer":[
{"data":{"values":[{}]},"mark":{"type":"rule","color":"#808080","strokeDash":[3,3],"strokeWidth":1},
"encoding":{"y":{"datum":0.5,"type":"quantitative","scale":{"domain":[-0.656,1.066],"zero":false,"nice":false}}}},
{"data":{"values":[{}]},"mark":{"type":"rule","color":"#808080","strokeDash":[3,3],"strokeWidth":1},
"encoding":{"y":{"datum":-0.5,"type":"quantitative","scale":{"domain":[-0.656,1.066],"zero":false,"nice":false}}}},
{"data":{"name":"bars"},"mark":{"type":"rule","strokeWidth":4,"strokeCap":"butt","clip":true},
"encoding":{"x":{"field":"t","type":"temporal","scale":{"domain":[{"year":2019,"month":1,"date":17,"hours":18,"minutes":23,"seconds":30},{"year":2019,"month":1,"date":18,"hours":0,"minutes":1,"seconds":45}],"nice":false},
"axis":{"orient":"bottom","values":[{"year":2019,"month":1,"date":17,"hours":18,"minutes":24},{"year":2019,"month":1,"date":17,"hours":18,"minutes":40},{"year":2019,"month":1,"date":17,"hours":18,"minutes":56},{"year":2019,"month":1,"date":17,"hours":19,"minutes":12},{"year":2019,"month":1,"date":17,"hours":19,"minutes":28},{"year":2019,"month":1,"date":17,"hours":19,"minutes":44},{"year":2019,"month":1,"date":17,"hours":20,"minutes":0},{"year":2019,"month":1,"date":17,"hours":20,"minutes":16},{"year":2019,"month":1,"date":17,"hours":20,"minutes":32},{"year":2019,"month":1,"date":17,"hours":20,"minutes":48},{"year":2019,"month":1,"date":17,"hours":21,"minutes":4},{"year":2019,"month":1,"date":17,"hours":21,"minutes":20},{"year":2019,"month":1,"date":17,"hours":21,"minutes":36},{"year":2019,"month":1,"date":17,"hours":21,"minutes":52},{"year":2019,"month":1,"date":17,"hours":22,"minutes":8},{"year":2019,"month":1,"date":17,"hours":22,"minutes":24},{"year":2019,"month":1,"date":17,"hours":22,"minutes":40},{"year":2019,"month":1,"date":17,"hours":22,"minutes":56},{"year":2019,"month":1,"date":17,"hours":23,"minutes":12},{"year":2019,"month":1,"date":17,"hours":23,"minutes":28},{"year":2019,"month":1,"date":17,"hours":23,"minutes":44},{"year":2019,"month":1,"date":18,"hours":0,"minutes":0}],"tickCount":100,
"labelExpr":"hours(datum.value)==18 && minutes(datum.value)==24 ? '17 Jan 2019' : timeFormat(datum.value, '%d %b %H:%M')","labelAlign":"left","labelOverlap":false,"labelFlush":false,"labelBound":false,"tickSize":4,"labelPadding":2,"labelOffset":1,"labelFontSize":9}},
"y":{"field":"m","type":"quantitative","scale":{"domain":[-0.656,1.066],"zero":false,"nice":false},
"axis":{"orient":"right","values":[1.01,0.5,0,-0.5],"tickCount":100,"format":".2f","tickSize":3,"labelPadding":3,"zindex":2,"labelOverlap":false,"labelFontSize":9.5,"labelColor":{"condition":{"test":"abs(datum.value)==0.5","value":"#101010"},"value":"#f0f0f0"}}},
"y2":{"datum":0},
"color":{"field":"d","type":"nominal","scale":{"domain":["up","dn"],"range":["#2e9e2e","#ff1a1a"]},"legend":null}}},
{"data":{"name":"bars"},"mark":{"type":"line","color":"#ffffff","strokeWidth":1,"interpolate":"monotone","clip":true},
"encoding":{"x":{"field":"t","type":"temporal","scale":{"domain":[{"year":2019,"month":1,"date":17,"hours":18,"minutes":23,"seconds":30},{"year":2019,"month":1,"date":18,"hours":0,"minutes":1,"seconds":45}],"nice":false}},
"y":{"field":"g","type":"quantitative","scale":{"domain":[-0.656,1.066],"zero":false,"nice":false}}}},
{"data":{"name":"ann"},"transform":[{"filter":"datum.k=='mdot'"}],"mark":{"type":"point","shape":"circle","filled":true,"size":50,"color":"#ffee00","opacity":1,"strokeWidth":0},
"encoding":{"x":{"field":"t","type":"temporal","scale":{"domain":[{"year":2019,"month":1,"date":17,"hours":18,"minutes":23,"seconds":30},{"year":2019,"month":1,"date":18,"hours":0,"minutes":1,"seconds":45}],"nice":false}},
"y":{"field":"p","type":"quantitative","scale":{"domain":[-0.656,1.066],"zero":false,"nice":false}}}},
{"data":{"values":[{}]},"mark":{"type":"rule","color":"#ffffff","strokeDash":[3,3],"strokeWidth":1,"xOffset":0.5},
"encoding":{"x":{"datum":{"year":2019,"month":1,"date":18,"hours":0,"minutes":0},"type":"temporal","scale":{"domain":[{"year":2019,"month":1,"date":17,"hours":18,"minutes":23,"seconds":30},{"year":2019,"month":1,"date":18,"hours":0,"minutes":1,"seconds":45}],"nice":false}}}},
{"data":{"values":[{}]},"mark":{"type":"rect","color":"#808080","clip":false},
"encoding":{"x":{"datum":{"year":2019,"month":1,"date":18,"hours":0,"minutes":2,"seconds":15},"type":"temporal","scale":{"domain":[{"year":2019,"month":1,"date":17,"hours":18,"minutes":23,"seconds":30},{"year":2019,"month":1,"date":18,"hours":0,"minutes":1,"seconds":45}],"nice":false}},
"x2":{"datum":{"year":2019,"month":1,"date":18,"hours":0,"minutes":9,"seconds":15}},
"y":{"datum":0.585,"type":"quantitative","scale":{"domain":[-0.656,1.066],"zero":false,"nice":false}},"y2":{"datum":0.415}}},
{"data":{"values":[{}]},"mark":{"type":"rect","color":"#808080","clip":false},
"encoding":{"x":{"datum":{"year":2019,"month":1,"date":18,"hours":0,"minutes":2,"seconds":15},"type":"temporal","scale":{"domain":[{"year":2019,"month":1,"date":17,"hours":18,"minutes":23,"seconds":30},{"year":2019,"month":1,"date":18,"hours":0,"minutes":1,"seconds":45}],"nice":false}},
"x2":{"datum":{"year":2019,"month":1,"date":18,"hours":0,"minutes":9,"seconds":15}},
"y":{"datum":-0.415,"type":"quantitative","scale":{"domain":[-0.656,1.066],"zero":false,"nice":false}},"y2":{"datum":-0.585}}},
{"data":{"values":[{}]},"mark":{"type":"text","text":"MACD -0.85 0.00 -0.85 -0.75 0.50 -0.50","align":"left","baseline":"middle","fontSize":9,"color":"#ffffff"},
"encoding":{"x":{"datum":{"year":2019,"month":1,"date":17,"hours":18,"minutes":25},"type":"temporal","scale":{"domain":[{"year":2019,"month":1,"date":17,"hours":18,"minutes":23,"seconds":30},{"year":2019,"month":1,"date":18,"hours":0,"minutes":1,"seconds":45}],"nice":false}},
"y":{"datum":0.92,"type":"quantitative","scale":{"domain":[-0.656,1.066],"zero":false,"nice":false}}}}
]}
]
}
